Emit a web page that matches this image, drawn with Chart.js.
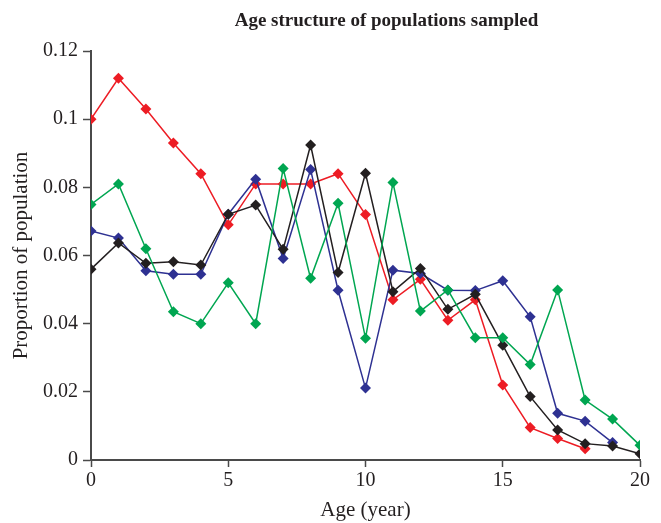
<!DOCTYPE html>
<html lang="en">
<head>
  <meta charset="UTF-8">
  <title>Age structure of populations sampled</title>
  <style>
    body {
      margin: 0;
      background: #fff;
    }
    canvas {
      display: block;
    }
  </style>
  <script src="https://cdn.jsdelivr.net/npm/chart.js@4.4.0/dist/chart.umd.min.js"></script>
</head>
<body>
  <canvas id="ageChart" width="661" height="523"></canvas>

  <script>
    // Ages on the x axis (years)
    const ages = [0, 1, 2, 3, 4, 5, 6, 7, 8, 9, 10, 11, 12, 13, 14, 15, 16, 17, 18, 19, 20];

    // Proportion of population per age, one list per population
    const redValues = [0.100, 0.112, 0.103, 0.093, 0.084, 0.069, 0.081, 0.081, 0.081, 0.084, 0.072,
      0.047, 0.053, 0.041, 0.047, 0.022, 0.0095, 0.0063, 0.0033];
    const greenValues = [0.075, 0.081, 0.062, 0.0435, 0.040, 0.052, 0.040, 0.0855, 0.0533, 0.0753, 0.0357,
      0.0814, 0.0437, 0.0499, 0.0359, 0.0359, 0.028, 0.0499, 0.0176, 0.012, 0.0043];
    const blueValues = [0.0672, 0.0651, 0.0555, 0.0545, 0.0545, 0.0721, 0.0824, 0.0591, 0.0852, 0.0498, 0.0211,
      0.0557, 0.0547, 0.0498, 0.0497, 0.0526, 0.042, 0.0137, 0.0114, 0.0051];
    const blackValues = [0.056, 0.0637, 0.0577, 0.0582, 0.0572, 0.0721, 0.0748, 0.0618, 0.0924, 0.055, 0.0841,
      0.0494, 0.0562, 0.0442, 0.0486, 0.0337, 0.0186, 0.0088, 0.0048, 0.0041, 0.0018];

    const titleText = 'Age structure of populations sampled';
    const xTitle = 'Age (year)';
    const yTitle = 'Proportion of population';

    const serif = '"Liberation Serif", "Times New Roman", serif';
    const axisColor = '#4a4a4a';

    function toPoints(values) {
      return values.map((v, i) => ({ x: ages[i], y: v }));
    }

    function makeSeries(values, color) {
      return {
        data: toPoints(values),
        borderColor: color,
        backgroundColor: color,
        borderWidth: 1.5,
        pointStyle: 'rectRot',
        pointRadius: 5.5,
        pointHoverRadius: 5.5,
        pointBorderWidth: 0,
        tension: 0
      };
    }

    // Title drawn above the plot, centred a bit right of the plot middle
    const titlePlugin = {
      id: 'plotTitle',
      afterDraw(chart) {
        const ctx = chart.ctx;
        const area = chart.chartArea;
        ctx.save();
        ctx.font = 'bold 19px ' + serif;
        ctx.fillStyle = '#231f20';
        ctx.textAlign = 'center';
        ctx.textBaseline = 'middle';
        ctx.fillText(titleText, (area.left + area.right) / 2 + 21, 21);
        ctx.restore();
      }
    };

    new Chart(document.getElementById('ageChart'), {
      type: 'line',
      data: {
        datasets: [
          makeSeries(greenValues, '#00a651'),
          makeSeries(blackValues, '#231f20'),
          makeSeries(blueValues, '#2e3192'),
          makeSeries(redValues, '#ed1c24')
        ]
      },
      options: {
        responsive: false,
        animation: false,
        layout: {
          padding: { top: 51, right: 21, left: 0, bottom: 0 }
        },
        plugins: {
          legend: { display: false },
          tooltip: { enabled: false },
          title: { display: false }
        },
        scales: {
          x: {
            type: 'linear',
            min: 0,
            max: 20,
            ticks: {
              stepSize: 5,
              color: '#231f20',
              font: { family: serif, size: 20 },
              padding: 2
            },
            grid: {
              drawOnChartArea: false,
              drawTicks: true,
              tickLength: 7,
              tickColor: axisColor,
              tickWidth: 1.5
            },
            border: { display: true, color: axisColor, width: 2 },
            title: {
              display: true,
              text: xTitle,
              color: '#231f20',
              font: { family: serif, size: 21 },
              padding: { top: 4, bottom: 0 }
            },
            afterFit(scale) {
              scale.height = 63;
            }
          },
          y: {
            min: 0,
            max: 0.12,
            ticks: {
              stepSize: 0.02,
              color: '#231f20',
              font: { family: serif, size: 20 },
              padding: 5,
              callback: (value) => String(Number(value.toFixed(2)))
            },
            grid: {
              drawOnChartArea: false,
              drawTicks: true,
              tickLength: 8,
              tickColor: axisColor,
              tickWidth: 1.5
            },
            border: { display: true, color: axisColor, width: 2 },
            title: {
              display: true,
              text: yTitle,
              color: '#231f20',
              font: { family: serif, size: 21 },
              padding: { top: 9, bottom: 0 }
            },
            afterFit(scale) {
              scale.width = 91;
            }
          }
        }
      },
      plugins: [titlePlugin]
    });
  </script>
</body>
</html>
